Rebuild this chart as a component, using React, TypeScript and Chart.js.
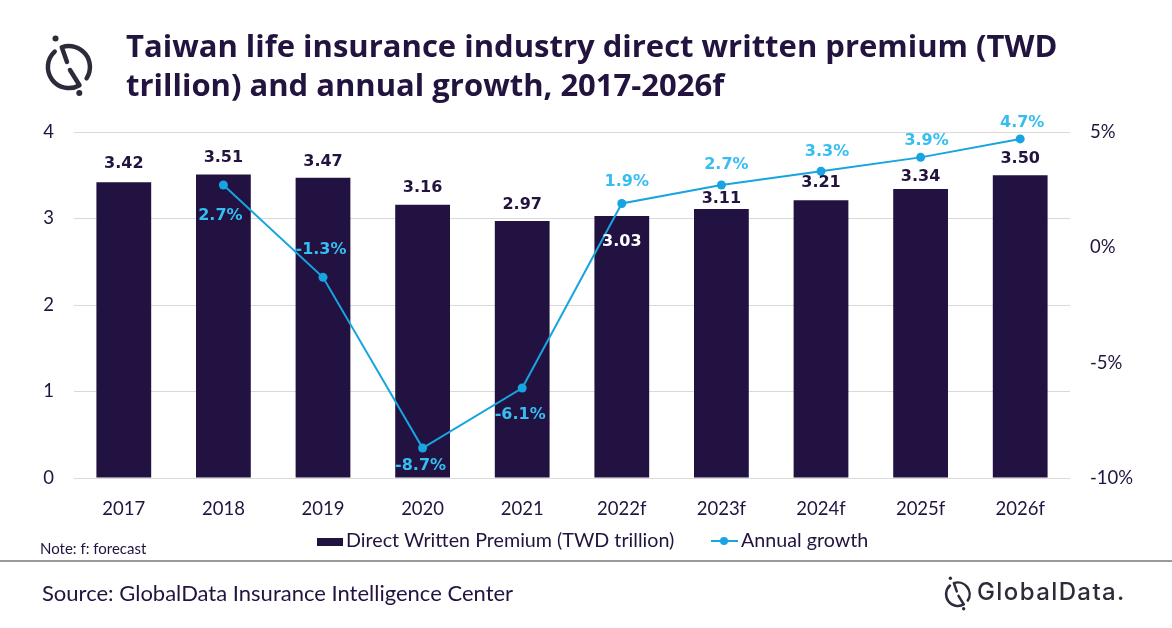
import React, { useEffect, useRef } from 'react';
import { Chart, registerables } from 'chart.js';

Chart.register(...registerables);

// ---------- data ----------
const categories = ['2017', '2018', '2019', '2020', '2021', '2022f', '2023f', '2024f', '2025f', '2026f'];
const premium = [3.42, 3.51, 3.47, 3.16, 2.97, 3.03, 3.11, 3.21, 3.34, 3.5];
const growth: (number | null)[] = [null, 2.7, -1.3, -8.7, -6.1, 1.9, 2.7, 3.3, 3.9, 4.7];
const leftAxisRange = [0, 4];
const rightAxisRange = [-10, 5];

// ---------- styles ----------
const DARK = '#22133f';
const BAR = '#221241';
const LINE = '#17a4e0';
const LINE_LABEL = '#36bdf1';
const GRID = '#d9d9d9';
const barLabelDy = [-20, -18, -18, -18, -18, 24, -12, -19, -14, -18];
const barLabelColors = [DARK, DARK, DARK, DARK, DARK, '#ffffff', DARK, DARK, DARK, DARK];
const growthLabelDy = [0, 29, -29, 16, 25, -23, -22, -21, -18, -18];
const growthLabelDx = [0, -3, -2, -2, -2, 5, 5, 6, 6, 2];

const labelPlugin = {
  id: 'valueLabels',
  afterDatasetsDraw(chart: any) {
    const ctx = chart.ctx;
    ctx.save();
    ctx.font = 'bold 16px "DejaVu Sans"';
    ctx.textAlign = 'center';
    ctx.textBaseline = 'alphabetic';
    const half = (16 * 0.729) / 2;
    const barMeta = chart.getDatasetMeta(0);
    barMeta.data.forEach((el: any, i: number) => {
      ctx.fillStyle = barLabelColors[i];
      ctx.fillText(premium[i].toFixed(2), el.x, el.y + barLabelDy[i] + half);
    });
    const lineMeta = chart.getDatasetMeta(1);
    lineMeta.data.forEach((el: any, i: number) => {
      const v = growth[i];
      if (v == null) return;
      ctx.fillStyle = LINE_LABEL;
      ctx.fillText(v.toFixed(1) + '%', el.x + growthLabelDx[i], el.y + growthLabelDy[i] + half);
    });
    ctx.restore();
  },
};

function Icon({ cx, cy, scale, color }: { cx: number; cy: number; scale: number; color: string }) {
  const w = 64 * scale;
  const h = 72 * scale;
  return (
    <svg
      width={w}
      height={h}
      viewBox="-32 -36 64 72"
      style={{ position: 'absolute', left: cx - w / 2, top: cy - h / 2 }}
    >
      <g fill="none" stroke={color} strokeWidth={4.5} strokeLinecap="round" strokeLinejoin="round">
        <path d="M -2 -5 L -7.2 -19.7 A 21 21 0 0 1 17.6 11.4" />
        <path d="M 1 3 L 10.5 18.2 A 21 21 0 0 1 -14.3 -15.4" />
      </g>
      <circle cx={-13.5} cy={-28.5} r={3} fill={color} />
      <circle cx={10.3} cy={26} r={3} fill={color} />
    </svg>
  );
}

export default function App() {
  const canvasRef = useRef<HTMLCanvasElement | null>(null);

  useEffect(() => {
    if (!canvasRef.current) return;
    const tickFont = { family: 'Lato', size: 18.5 };
    const chart = new Chart(canvasRef.current, {
      type: 'bar',
      data: {
        labels: categories,
        datasets: [
          {
            type: 'bar',
            label: 'Direct Written Premium (TWD trillion)',
            data: premium,
            backgroundColor: BAR,
            yAxisID: 'y',
            barPercentage: 0.55,
            categoryPercentage: 1,
            order: 2,
          } as any,
          {
            type: 'line',
            label: 'Annual growth',
            data: growth,
            borderColor: LINE,
            backgroundColor: LINE,
            borderWidth: 2,
            pointRadius: 4.5,
            pointHoverRadius: 4.5,
            pointBorderWidth: 0,
            yAxisID: 'y1',
            tension: 0,
            order: 1,
          } as any,
        ],
      },
      options: {
        responsive: false,
        animation: false,
        layout: { padding: { top: 132, bottom: 110, left: 0, right: 0 } },
        plugins: {
          legend: { display: false },
          tooltip: { enabled: false },
        },
        scales: {
          x: {
            grid: { display: false },
            border: { display: false },
            ticks: { font: tickFont, color: DARK, padding: 12 },
            afterFit: (s: any) => {
              s.height = 40;
            },
          },
          y: {
            position: 'left',
            min: leftAxisRange[0],
            max: leftAxisRange[1],
            ticks: { stepSize: 1, font: tickFont, color: DARK, padding: 20 },
            grid: { color: GRID, drawTicks: false, lineWidth: 1 },
            border: { display: false },
            afterFit: (s: any) => {
              s.width = 74;
            },
          },
          y1: {
            position: 'right',
            min: rightAxisRange[0],
            max: rightAxisRange[1],
            ticks: {
              stepSize: 5,
              font: tickFont,
              color: DARK,
              padding: 20,
              callback: (v: any) => v + '%',
            },
            grid: { display: false, drawTicks: false },
            border: { display: false },
            afterFit: (s: any) => {
              s.width = 102;
            },
          },
        },
      } as any,
      plugins: [labelPlugin],
    });
    return () => chart.destroy();
  }, []);

  return (
    <div
      style={{
        position: 'absolute',
        left: 0,
        top: 0,
        width: 1172,
        height: 628,
        background: '#ffffff',
        overflow: 'hidden',
        fontFamily: 'Lato',
        color: DARK,
      }}
    >
      <canvas ref={canvasRef} width={1172} height={628} style={{ position: 'absolute', left: 0, top: 0 }} />
      <Icon cx={69} cy={67} scale={1} color="#2c2b3a" />
      <div
        style={{
          position: 'absolute',
          left: 126,
          top: 26,
          fontFamily: '"Open Sans"',
          fontWeight: 700,
          fontSize: 31,
          lineHeight: '39px',
          color: DARK,
          whiteSpace: 'nowrap',
        }}
      >
        Taiwan life insurance industry direct written premium (TWD
        <br />
        trillion) and annual growth, 2017-2026f
      </div>

      {/* legend */}
      <div style={{ position: 'absolute', left: 317, top: 538, width: 26, height: 8, background: BAR }} />
      <div style={{ position: 'absolute', left: 346, top: 528, fontSize: 19.7, whiteSpace: 'nowrap' }}>
        Direct Written Premium (TWD trillion)
      </div>
      <div style={{ position: 'absolute', left: 711, top: 540, width: 27, height: 2, background: LINE }} />
      <div
        style={{
          position: 'absolute',
          left: 720,
          top: 537,
          width: 8,
          height: 8,
          borderRadius: 4,
          background: LINE,
        }}
      />
      <div style={{ position: 'absolute', left: 741, top: 528, fontSize: 19.7, whiteSpace: 'nowrap' }}>
        Annual growth
      </div>

      <div style={{ position: 'absolute', left: 40, top: 539, fontSize: 15, whiteSpace: 'nowrap' }}>
        Note: f: forecast
      </div>
      <div style={{ position: 'absolute', left: 0, top: 560, width: 1172, height: 2, background: '#9a9a9a' }} />
      <div style={{ position: 'absolute', left: 42, top: 579, fontSize: 22, whiteSpace: 'nowrap' }}>
        Source: GlobalData Insurance Intelligence Center
      </div>

      <Icon cx={958} cy={594} scale={0.56} color="#2c2b3a" />
      <div
        style={{
          position: 'absolute',
          left: 977,
          top: 577,
          fontFamily: 'Inter',
          fontWeight: 500,
          fontSize: 24,
          letterSpacing: 1.4,
          color: '#2c2b3a',
          whiteSpace: 'nowrap',
        }}
      >
        GlobalData.
      </div>
    </div>
  );
}
